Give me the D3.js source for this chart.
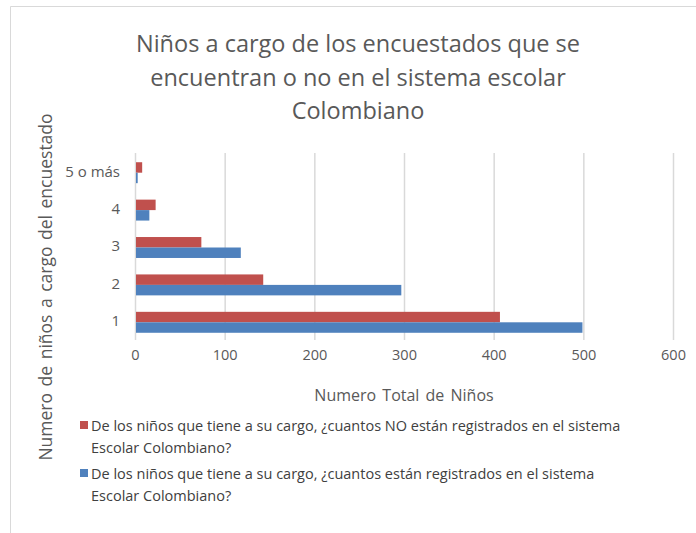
<!DOCTYPE html>
<html>
<head>
<meta charset="utf-8">
<script src="https://cdn.jsdelivr.net/npm/d3@7"></script>
<style>
  body { margin: 0; background: #fff; }
  text { font-family: "Open Sans", sans-serif; }
</style>
</head>
<body>
<div id="chart"></div>
<script>
// data
var categories = ["5 o más", "4", "3", "2", "1"];
var noRegistrados = [8, 23, 74, 143, 407];
var registrados = [3, 16, 118, 297, 499];
var seriesNames = [
  ["De los niños que tiene a su cargo, ¿cuantos NO están registrados en el sistema", "Escolar Colombiano?"],
  ["De los niños que tiene a su cargo, ¿cuantos están registrados en el sistema", "Escolar Colombiano?"]
];
var xTicks = [0, 100, 200, 300, 400, 500, 600];
var titleLines = ["Niños a cargo de los encuestados que se", "encuentran o no en el sistema escolar", "Colombiano"];

var W = 696, H = 533;
var colors = ["#C0504D", "#4F81BD"];

var svg = d3.select("#chart").append("svg")
  .attr("width", W).attr("height", H);

// outer frame
svg.append("path")
  .attr("d", "M10.5," + H + " V6.5 H" + W)
  .attr("fill", "none").attr("stroke", "#d9d9d9").attr("stroke-width", 1);

var x = d3.scaleLinear().domain([0, 600]).range([135, 673]);
var y = d3.scaleBand().domain(categories).range([154, 341])
  .paddingInner(0.44).paddingOuter(0.22);
var ySub = d3.scaleBand().domain([0, 1]).range([0, y.bandwidth()]);

// gridlines
svg.append("g").selectAll("line")
  .data(xTicks).enter().append("line")
  .attr("x1", function(d){ return x(d) + 0.5; })
  .attr("x2", function(d){ return x(d) + 0.5; })
  .attr("y1", 153).attr("y2", 340)
  .attr("stroke", "#d9d9d9").attr("stroke-width", 1.5);

// bars
var rows = categories.map(function(c, i){
  return {cat: c, vals: [noRegistrados[i], registrados[i]]};
});
var g = svg.append("g").selectAll("g")
  .data(rows).enter().append("g")
  .attr("transform", function(d){ return "translate(0," + y(d.cat) + ")"; });
g.selectAll("rect")
  .data(function(d){ return d.vals; }).enter().append("rect")
  .attr("x", x(0) + 1)
  .attr("y", function(d, i){ return ySub(i); })
  .attr("width", function(d){ return x(d) - x(0) - 1; })
  .attr("height", ySub.bandwidth())
  .attr("fill", function(d, i){ return colors[i]; });

// axes labels
var xAxis = d3.axisBottom(x).tickValues(xTicks).tickSize(0).tickPadding(10);
var gx = svg.append("g").attr("transform", "translate(0,340)").call(xAxis);
gx.select(".domain").remove();
gx.selectAll("text").attr("fill", "#595959").style("font-size", "14.5px");

var yAxis = d3.axisLeft(y).tickSize(0).tickPadding(15);
var gy = svg.append("g").attr("transform", "translate(135,-1)").call(yAxis);
gy.select(".domain").remove();
gy.selectAll("text").attr("fill", "#595959").style("font-size", "15px");

// title
svg.append("g").selectAll("text")
  .data(titleLines).enter().append("text")
  .attr("x", 358).attr("y", function(d, i){ return 52 + i * 33.5; })
  .attr("text-anchor", "middle").attr("fill", "#595959")
  .style("font-size", "23.5px")
  .text(function(d){ return d; });

// axis titles
svg.append("text")
  .attr("x", 404).attr("y", 401)
  .attr("text-anchor", "middle").attr("fill", "#595959")
  .style("font-size", "16px")
  .style("word-spacing", "2px")
  .text("Numero  Total de Niños");

svg.append("text")
  .attr("transform", "translate(52,287) rotate(-90)")
  .attr("text-anchor", "middle").attr("fill", "#595959")
  .style("font-size", "17.5px")
  .style("word-spacing", "2px")
  .text("Numero  de niños a cargo del encuestado");

// legend
var leg = svg.append("g").selectAll("g")
  .data(seriesNames).enter().append("g")
  .attr("transform", function(d, i){ return "translate(0," + (i * 48) + ")"; });
leg.append("rect")
  .attr("x", 80).attr("y", 421).attr("width", 8).attr("height", 8)
  .attr("fill", function(d, i){ return colors[i]; });
leg.selectAll("text")
  .data(function(d){ return d; }).enter().append("text")
  .attr("x", 91).attr("y", function(d, j){ return 431 + j * 22; })
  .attr("fill", "#404040").style("font-size", "14.5px")
  .text(function(d){ return d; });
</script>
</body>
</html>
